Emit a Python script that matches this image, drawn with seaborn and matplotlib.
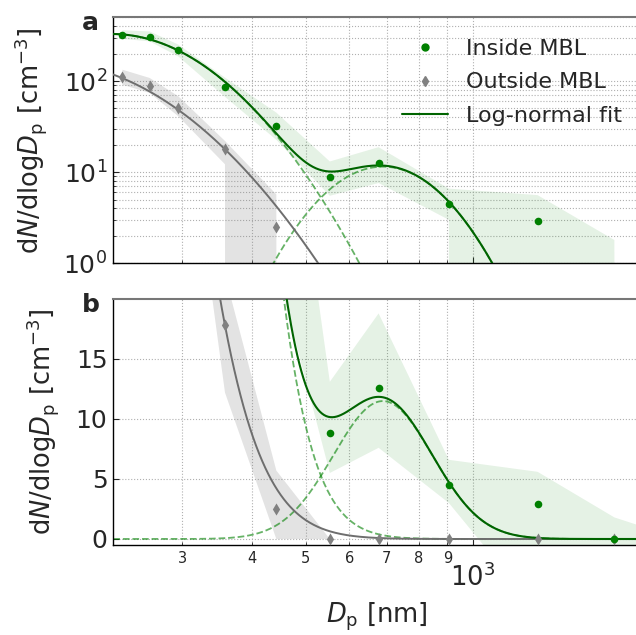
import matplotlib

matplotlib.use("Agg")
import matplotlib.pyplot as plt
import matplotlib.ticker as mticker
import numpy as np
import pandas as pd
import seaborn as sns
from matplotlib.lines import Line2D

# bin centres of the size distribution [nm]
d_p = [234, 262, 295, 358, 443, 553, 677, 906, 1309, 1800, 2370]

# inside the marine boundary layer [cm-3]
inside_mean = [317, 307, 221, 85, 31.7, 8.8, 12.6, 4.5, 2.9, 0.0, 0.0]
inside_upper = [360, 350, 251, 109, 45, 13.1, 18.8, 6.6, 5.6, 1.8, 0.0]
inside_lower = [290, 272, 186, 67, 22.6, 5.5, 7.6, 3.0, -6.0, -2.0, -1.0]

# outside the marine boundary layer [cm-3]
outside_mean = [112, 89, 51, 17.8, 2.5, 0, 0, 0, 0, 0, 0]
outside_upper = [133, 108, 68, 22, 5.7, 0, 0, 0, 0, 0, 0]
outside_lower = [91, 74, 41, 12.2, 0, 0, 0, 0, 0, 0, 0]

# log-normal fit modes: number [cm-3], median diameter [nm], geometric std
inside_n = [107.6, 2.57]
inside_dg = [224, 689]
inside_sigma = [1.352, 1.228]
outside_n = [62.2]
outside_dg = [170]
outside_sigma = [1.426]

Y_LABEL = r"d$N$/dlog$D_\mathrm{p}$ [cm$^{-3}$]"


def lognormal(d, n, dg, sigma):
    s = np.log10(sigma)
    return n / (np.sqrt(2 * np.pi) * s) * np.exp(-np.log10(d / dg) ** 2 / (2 * s**2))


d_fit = np.logspace(np.log10(200), np.log10(2600), 600)
fit = pd.DataFrame({"d_p": d_fit})
for i, (n, dg, sg) in enumerate(zip(inside_n, inside_dg, inside_sigma)):
    fit[f"mode{i + 1}"] = lognormal(d_fit, n, dg, sg)
fit["inside_total"] = fit[["mode1", "mode2"]].sum(axis=1)
fit["outside_total"] = sum(
    lognormal(d_fit, n, dg, sg) for n, dg, sg in zip(outside_n, outside_dg, outside_sigma)
)

points = pd.DataFrame({"d_p": d_p, "inside": inside_mean, "outside": outside_mean})

sns.set_style("ticks")
plt.rcParams["font.family"] = ["DejaVu Sans"]
plt.rcParams["mathtext.fontset"] = "dejavusans"

fig = plt.figure(figsize=(6.36, 6.35), dpi=100)
ax1 = fig.add_axes([113 / 636, 1 - 263.3 / 635, 528 / 636, 246 / 635])
ax2 = fig.add_axes([113 / 636, 1 - 545 / 635, 528 / 636, 246 / 635], sharex=ax1)


def draw_panel(ax, log_y):
    ax.set_xscale("log")
    if log_y:
        ax.set_yscale("log")
    ax.fill_between(d_p, outside_lower, outside_upper, color="gray", alpha=0.22, lw=0, zorder=1)
    ax.fill_between(d_p, inside_lower, inside_upper, color="green", alpha=0.1, lw=0, zorder=1)
    for col in ["mode1", "mode2"]:
        sns.lineplot(data=fit, x="d_p", y=col, ax=ax, color="green", alpha=0.6,
                     lw=1.3, linestyle="--", estimator=None, zorder=2)
    sns.lineplot(data=fit, x="d_p", y="outside_total", ax=ax, color="#6e6e6e",
                 lw=1.4, estimator=None, zorder=3)
    sns.lineplot(data=fit, x="d_p", y="inside_total", ax=ax, color="darkgreen",
                 lw=1.5, estimator=None, zorder=3)
    out_pts = points[points["outside"] > 0] if log_y else points
    in_pts = points[points["inside"] > 0] if log_y else points
    sns.scatterplot(data=out_pts, x="d_p", y="outside", ax=ax, marker="d", color="gray",
                    s=38, linewidth=0, zorder=4, legend=False)
    sns.scatterplot(data=in_pts, x="d_p", y="inside", ax=ax, marker="o", color="green",
                    s=30, linewidth=0, zorder=5, legend=False)

    ax.set_axisbelow(True)
    ax.grid(True, which="both", linestyle=":", color="#b0b0b0", lw=0.8)
    ax.tick_params(which="both", direction="in", top=False, right=False)
    ax.tick_params(which="major", length=4, width=0.8, labelsize=18, pad=4)
    ax.tick_params(which="minor", length=2.5, width=0.6)
    ax.spines["top"].set_color("#777777")
    ax.spines["top"].set_linewidth(1.5)
    ax.spines["right"].set_visible(False)
    for side in ["left", "bottom"]:
        ax.spines[side].set_color("black")
        ax.spines[side].set_linewidth(1.0)
    ax.set_xlabel("")
    ax.set_ylabel(Y_LABEL, fontsize=18.5)


draw_panel(ax1, log_y=True)
draw_panel(ax2, log_y=False)

ax1.set_xlim(225, 2010)
ax1.set_ylim(1, 500)
ax2.set_ylim(-0.5, 20)
ax2.set_yticks([0, 5, 10, 15])

ax1.tick_params(axis="x", which="both", labelbottom=False)
ax2.xaxis.set_minor_formatter(
    mticker.FuncFormatter(lambda v, p: f"{v / 100:.0f}" if v < 1000 else "")
)
ax2.tick_params(axis="x", which="minor", labelsize=10.5, pad=4)
ax2.tick_params(axis="x", which="major", labelsize=18.5, pad=13)
ax2.set_xlabel(r"$D_\mathrm{p}$ [nm]", fontsize=18.5)
ax2.xaxis.set_label_coords(0.5, -0.228)

ax1.yaxis.set_label_coords(-0.122, 0.5)
ax2.yaxis.set_label_coords(-0.099, 0.5)

for ax, letter in [(ax1, "a"), (ax2, "b")]:
    ax.text(-0.042, 0.948, letter, transform=ax.transAxes, fontsize=18,
            fontweight="bold", ha="center", va="baseline")

handles = [
    Line2D([], [], marker="o", color="green", linestyle="none", markersize=5),
    Line2D([], [], marker="d", color="gray", linestyle="none", markersize=5),
    Line2D([], [], color="darkgreen", lw=1.5),
]
ax1.legend(handles, ["Inside MBL", "Outside MBL", "Log-normal fit"], frameon=False,
           fontsize=16, loc="upper left", bbox_to_anchor=(0.547, 0.912),
           borderaxespad=0, borderpad=0, handlelength=2.1, handletextpad=0.8,
           labelspacing=0.6, numpoints=1)

fig.savefig("out.png", dpi=100)
